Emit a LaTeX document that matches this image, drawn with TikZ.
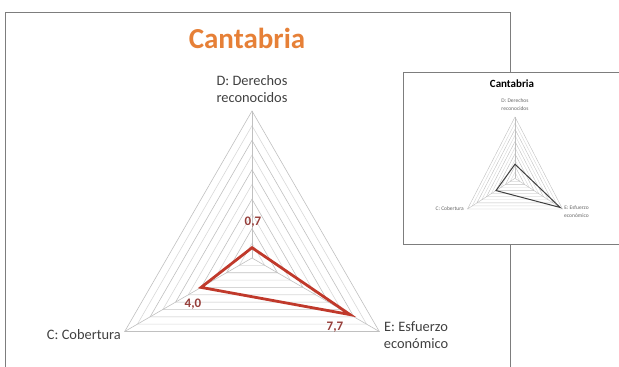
\documentclass[tikz,border=0pt]{standalone}
\usepackage{fontspec}
\setmainfont{Carlito}
\usetikzlibrary{calc}
\definecolor{ttl}{RGB}{230,128,55}
\definecolor{lbl}{RGB}{64,64,64}
\definecolor{dred}{RGB}{192,57,43}
\definecolor{vred}{RGB}{150,62,58}
\definecolor{gmaj}{RGB}{192,192,192}
\definecolor{gmin}{RGB}{216,216,216}
\definecolor{framec}{RGB}{125,125,125}
\begin{document}
\begin{tikzpicture}[x=1pt,y=-1pt,
  axislbl/.style={text=lbl, font=\fontsize{14.4}{17}\selectfont, align=center, inner sep=0pt},
  smalllbl/.style={text=lbl!80, font=\fontsize{5.5}{8}\selectfont, align=center, inner sep=0pt},
  vallbl/.style={text=vred, font=\bfseries\fontsize{13}{15}\selectfont, inner sep=0pt},
  framebox/.style={draw=framec, line width=1pt},
  spoke/.style={draw=gmaj, line width=0.6pt}]
\useasboundingbox (0,0) rectangle (619,367);
% main frame
\draw[framebox] (5,380) -- (5,12) -- (510,12) -- (510,380);
\node[text=ttl, font=\bfseries\fontsize{29}{32}\selectfont, inner sep=0pt] (title) at (247,38) {Cantabria};
% main radar
\coordinate (O) at (252,258);
\coordinate (Dv) at (252,111);
\coordinate (Cv) at (124.7,331.5);
\coordinate (Ev) at (379.3,331.5);
\foreach \k in {1,...,10}{
  \pgfmathsetmacro\f{\k/10}
  \ifodd\k \def\gc{gmin}\else\def\gc{gmaj}\fi
  \draw[draw=\gc, line width=0.6pt] ($(O)!\f!(Dv)$) -- ($(O)!\f!(Cv)$) -- ($(O)!\f!(Ev)$) -- cycle;
}
\draw[spoke] (O) -- (Dv);
\draw[spoke] (O) -- (Cv);
\draw[spoke] (O) -- (Ev);
\coordinate (pD) at ($(O)!0.07!(Dv)$);
\coordinate (pC) at ($(O)!0.40!(Cv)$);
\coordinate (pE) at ($(O)!0.77!(Ev)$);
\draw[dred, line width=2.8pt, line join=miter] (pD) -- (pC) -- (pE) -- cycle;
\node[vallbl] (vD) at (253,222) {0,7};
\node[vallbl] (vC) at (193,304) {4,0};
\node[vallbl] (vE) at (335,327) {7,7};
\node[axislbl] (lD) at (252,89.5) {D: Derechos\\reconocidos};
\node[axislbl, anchor=east] (lC) at (121,335) {C: Cobertura};
\node[axislbl] (lE) at (416,335) {E: Esfuerzo\\económico};
% inset
\draw[framebox, fill=white] (403,72) rectangle (630,244);
\node[text=black, font=\bfseries\fontsize{11}{13}\selectfont, inner sep=0pt] (ititle) at (512,84) {Cantabria};
\coordinate (iO) at (515,178.3);
\coordinate (iD) at (515,117);
\coordinate (iC) at (467.5,209);
\coordinate (iE) at (562.5,209);
\foreach \k in {1,...,10}{
  \pgfmathsetmacro\f{\k/10}
  \ifodd\k \def\gc{gmin}\else\def\gc{gmaj}\fi
  \draw[draw=\gc, line width=0.4pt] ($(iO)!\f!(iD)$) -- ($(iO)!\f!(iC)$) -- ($(iO)!\f!(iE)$) -- cycle;
}
\draw[spoke, line width=0.4pt] (iO) -- (iD);
\draw[spoke, line width=0.4pt] (iO) -- (iC);
\draw[spoke, line width=0.4pt] (iO) -- (iE);
\coordinate (ipD) at ($(iO)!0.23!(iD)$);
\coordinate (ipC) at ($(iO)!0.40!(iC)$);
\coordinate (ipE) at ($(iO)!0.95!(iE)$);
\draw[black!75, line width=1pt] (ipD) -- (ipC) -- (ipE) -- cycle;
\node[smalllbl] (ilD) at (515,105) {D: Derechos\\reconocidos};
\node[smalllbl, anchor=east] (ilC) at (464,209) {C: Cobertura};
\node[smalllbl, anchor=west] (ilE) at (564,212) {E: Esfuerzo\\económico};
\end{tikzpicture}
\end{document}
